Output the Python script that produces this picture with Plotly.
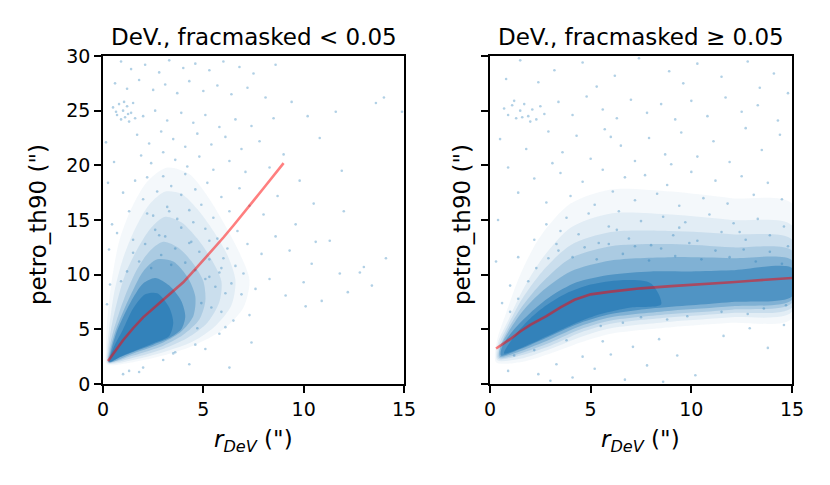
import plotly.graph_objects as go

# ---------------- data ----------------
# Running-median curves
left_line_x = [0.25, 1.0, 1.5, 2.0, 3.0, 4.0, 4.6, 5.0, 6.0, 6.5, 7.0, 8.0, 9.0]
left_line_y = [2.1, 4.0, 5.1, 6.1, 7.7, 9.3, 10.5, 11.3, 13.4, 14.5, 15.6, 17.9, 20.2]

right_line_x = [0.3, 1.0, 1.5, 2.0, 2.8, 3.5, 4.2, 5.0, 6.0, 7.5, 9.0, 10.0, 11.0, 12.0, 13.0, 14.0, 15.0]
right_line_y = [3.25, 4.1, 4.8, 5.4, 6.2, 7.0, 7.7, 8.2, 8.45, 8.75, 8.95, 9.05, 9.2, 9.3, 9.45, 9.55, 9.7]

# Density contours of the point cloud (outer -> inner), left panel
left_dens_x = [
    [0.2, 1.5, 3.0, 4.5, 6.0, 7.0, 7.3, 6.8, 6.0, 5.2, 4.3, 3.2, 2.2, 1.4, 0.8, 0.4, 0.2, 0.15],
    [0.22, 1.5, 3.0, 4.5, 5.6, 6.4, 6.6, 6.2, 5.5, 4.7, 3.9, 3.1, 2.3, 1.6, 1.0, 0.55, 0.3, 0.2],
    [0.25, 1.5, 3.0, 4.2, 5.2, 5.8, 5.9, 5.4, 4.7, 3.9, 3.1, 2.4, 1.7, 1.1, 0.7, 0.4, 0.25],
    [0.27, 1.5, 3.0, 4.0, 4.8, 5.1, 5.0, 4.5, 3.8, 3.0, 2.3, 1.7, 1.2, 0.8, 0.45, 0.3],
    [0.28, 1.5, 3.0, 3.9, 4.5, 4.6, 4.2, 3.5, 2.7, 2.0, 1.5, 1.0, 0.6, 0.35],
    [0.3, 0.9, 1.6, 2.5, 3.3, 3.9, 4.1, 3.9, 3.3, 2.6, 2.0, 1.5, 1.05, 0.65, 0.4],
    [0.32, 1.0, 1.8, 2.6, 3.3, 3.5, 3.3, 2.7, 2.1, 1.5, 1.0, 0.5],
]
left_dens_y = [
    [1.8, 2.0, 2.6, 3.5, 5.0, 7.0, 9.5, 12.0, 14.8, 17.2, 19.2, 19.8, 18.5, 16.0, 13.0, 9.0, 5.5, 3.0],
    [1.9, 2.2, 2.9, 3.9, 5.3, 7.2, 9.5, 11.8, 14.0, 16.0, 17.4, 17.6, 16.4, 14.2, 11.5, 8.3, 5.0, 3.0],
    [1.95, 2.4, 3.2, 4.2, 5.6, 7.5, 9.4, 11.4, 13.3, 14.8, 15.3, 14.3, 12.3, 10.0, 7.5, 5.0, 3.0],
    [2.0, 2.6, 3.5, 4.5, 5.9, 7.6, 9.4, 11.0, 12.4, 13.0, 12.1, 10.5, 8.5, 6.5, 4.4, 3.0],
    [2.0, 2.8, 3.8, 4.8, 6.2, 8.0, 9.8, 11.2, 11.4, 10.3, 8.6, 6.6, 4.7, 3.0],
    [2.0, 2.5, 3.0, 3.6, 4.2, 5.0, 6.2, 7.6, 9.0, 9.7, 9.2, 7.9, 6.3, 4.6, 3.0],
    [2.05, 2.6, 3.2, 3.8, 4.4, 5.6, 7.0, 8.3, 8.2, 6.9, 5.0, 3.2],
]

# Density contours, right panel
right_dens_x = [
    [0.3, 1.5, 3.0, 4.5, 6.0, 9.0, 12.0, 15.0, 15.0, 12.0, 9.0, 6.0, 4.0, 2.5, 1.5, 0.8, 0.35],
    [0.35, 1.5, 3.0, 4.5, 6.0, 9.0, 12.0, 15.0, 15.0, 12.0, 9.0, 6.0, 4.0, 2.6, 1.6, 0.9, 0.4],
    [0.4, 1.5, 3.0, 4.5, 6.0, 9.0, 12.0, 15.0, 15.0, 12.0, 9.0, 6.0, 4.0, 2.6, 1.6, 0.9, 0.45],
    [0.45, 1.5, 3.0, 4.5, 6.0, 9.0, 12.0, 15.0, 15.0, 12.0, 9.0, 6.0, 4.0, 2.6, 1.6, 0.9, 0.5],
    [0.5, 1.5, 3.0, 4.5, 6.0, 9.0, 12.0, 15.0, 15.0, 12.0, 9.0, 6.0, 4.0, 2.6, 1.6, 0.9, 0.5],
    [0.55, 1.5, 3.0, 4.5, 6.0, 8.0, 10.0, 12.0, 15.0, 15.0, 12.0, 10.0, 8.0, 6.0, 4.3, 3.0, 2.0, 1.2, 0.6],
    [0.7, 1.8, 3.0, 4.3, 5.5, 7.0, 8.5, 8.0, 6.5, 5.0, 3.8, 2.8, 2.0, 1.3],
]
right_dens_y = [
    [2.0, 2.0, 2.8, 3.8, 4.6, 5.2, 5.6, 6.0, 16.5, 17.0, 17.6, 17.8, 16.5, 13.5, 10.0, 6.5, 4.0],
    [2.2, 2.3, 3.2, 4.3, 5.1, 5.7, 6.1, 6.6, 14.5, 15.0, 15.5, 15.6, 14.3, 11.5, 8.5, 5.8, 3.8],
    [2.3, 2.6, 3.5, 4.7, 5.5, 6.1, 6.5, 7.0, 13.2, 13.7, 14.0, 13.9, 12.7, 10.3, 7.8, 5.4, 3.6],
    [2.4, 2.8, 3.8, 5.0, 5.8, 6.4, 6.8, 7.4, 12.2, 12.5, 12.8, 12.6, 11.5, 9.3, 7.1, 5.0, 3.4],
    [2.5, 3.0, 4.1, 5.3, 6.1, 6.7, 7.1, 7.7, 11.3, 11.5, 11.6, 11.3, 10.3, 8.5, 6.6, 4.7, 3.3],
    [2.6, 3.2, 4.4, 5.6, 6.4, 6.9, 7.2, 7.5, 8.0, 10.6, 10.4, 10.3, 10.3, 10.0, 9.3, 8.0, 6.5, 5.0, 3.4],
    [2.8, 3.5, 4.5, 5.6, 6.4, 7.0, 7.3, 9.2, 9.5, 9.1, 8.3, 7.2, 6.0, 4.6],
]
dens_alpha = [0.05, 0.08, 0.12, 0.18, 0.30, 0.50, 0.60]

# Sparse outlying points, left panel
left_pts = [
    (0.9,29.5),(1.4,28.8),(2.1,29.2),(2.8,28.5),(3.3,29.6),(4.0,28.9),(4.6,29.3),(5.3,28.7),(6.0,29.5),(6.8,29.0),(7.5,28.4),(8.6,29.2),
    (0.6,27.5),(1.2,27.0),(1.8,27.8),(2.5,26.9),(3.1,27.4),(3.7,26.6),(4.3,27.7),(5.0,26.8),(5.7,27.3),(6.4,26.5),(7.2,27.1),(8.1,26.2),(9.4,25.8),
    (0.5,25.3),(0.7,24.6),(0.8,25.6),(0.9,24.2),(1.0,25.0),(1.1,24.4),(1.2,25.4),(1.3,24.0),(1.4,24.8),(1.5,25.7),(1.6,24.3),(0.65,24.9),(1.05,25.8),(1.25,24.7),
    (2.0,24.5),(2.6,25.0),(3.2,24.1),(3.9,24.8),(4.5,23.9),(5.1,24.6),(5.8,23.5),(6.6,24.2),(7.4,23.6),(8.5,24.3),(10.2,24.5),(11.6,24.9),(13.6,25.7),(14.0,26.2),(14.9,24.9),
    (1.7,22.8),(2.3,22.0),(2.9,23.1),(3.5,22.4),(4.1,21.7),(4.7,22.9),(5.4,21.9),(6.1,22.6),(6.9,21.5),(7.8,22.2),(9.0,21.0),(10.8,22.5),
    (1.9,20.9),(2.4,20.2),(3.0,21.2),(3.6,20.5),(4.2,19.9),(4.8,20.8),(5.5,19.6),(6.3,20.4),(7.1,19.4),(8.3,19.8),(9.8,18.6),(11.9,19.5),
    (1.0,17.5),(1.3,15.8),(1.6,18.6),(2.0,16.9),(2.2,18.9),(2.5,15.4),(2.7,17.6),(3.0,19.0),(3.2,16.2),(3.4,18.1),(3.7,15.1),(3.9,17.3),
    (4.1,19.2),(4.3,15.9),(4.6,17.8),(4.9,16.4),(5.2,18.4),(5.5,15.2),(5.9,17.1),(6.3,15.8),(6.8,17.9),(7.3,16.3),(8.0,15.5),(8.7,17.2),
    (9.6,14.6),(10.5,16.5),(12.0,15.8),
    (0.7,13.8),(1.5,13.2),(2.8,13.6),(4.4,13.0),(5.1,14.2),(5.7,13.3),(6.2,12.4),(6.7,14.0),(7.2,12.8),(7.9,11.9),(8.6,13.5),(9.3,12.2),
    (10.4,11.0),(11.3,13.1),(12.8,10.2),(14.1,11.5),(10.6,13.0),(11.8,10.1),(13.0,10.7),(10.1,7.1),
    (5.3,9.8),(5.9,10.6),(6.4,9.2),(7.0,10.1),(7.6,8.7),(8.3,9.6),(9.1,8.1),(10.0,9.3),(10.9,7.6),(12.2,8.4),(13.4,9.0),
    (2.0,1.5),(3.0,2.2),(4.3,1.8),(5.1,3.2),(5.8,4.6),(6.5,5.8),(7.3,6.3),(4.6,3.6),(3.6,2.9),(1.3,1.2),(6.3,1.5),(1.0,0.9),
    (1.8,1.1),(3.5,2.8),(7.4,3.8),(6.1,5.2),
    (0.3,12.3),(0.35,9.1),(0.2,7.3),(0.45,14.6),(0.25,18.4),(0.55,20.3),(0.15,22.1),
    (1.8,11.2),(2.1,12.8),(2.4,10.6),(2.6,14.1),(2.9,11.8),(3.1,13.5),(3.4,10.9),(3.6,12.4),(3.9,14.3),(4.1,11.1),(4.3,12.9),
    (4.6,10.4),(4.8,12.1),(5.1,9.6),(5.3,11.4),(5.6,8.9),(5.8,10.2),(6.1,8.3),(1.2,10.3),(1.5,12.0),(0.9,9.4),(2.2,15.6),
    (3.3,15.8),(4.5,14.8),(5.3,13.1),(6.0,11.5),(6.6,10.8),(6.9,8.2),(4.9,7.4),(5.4,7.0),(4.7,5.1),(5.9,6.6),
]

# Sparse outlying points, right panel
right_pts = [
    (1.5,29.6),(3.2,28.7),(4.6,29.4),(6.2,28.2),(7.4,29.8),(8.9,28.6),(10.3,29.3),(11.5,28.1),(12.8,29.5),(14.1,28.4),
    (2.4,27.6),(5.3,27.2),(9.6,27.5),(13.4,27.1),(0.8,27.9),
    (0.7,25.2),(0.9,24.6),(1.1,25.5),(1.3,24.3),(1.5,25.0),(1.7,25.6),(1.9,24.5),(2.1,25.1),(2.3,24.2),(2.5,25.4),(2.7,24.7),
    (1.2,25.9),(2.0,24.0),(1.6,24.4),
    (3.4,25.8),(4.1,24.6),(4.8,26.3),(5.6,25.1),(6.3,24.3),(7.0,26.0),(7.8,24.8),(8.5,25.6),(9.2,24.2),(10.0,25.9),(10.8,24.5),
    (11.7,26.2),(12.5,24.9),(13.3,25.5),(14.3,24.1),(14.8,26.6),
    (0.5,22.4),(1.8,21.5),(2.9,23.1),(3.6,21.2),(4.3,22.7),(5.0,20.6),(5.7,23.3),(6.5,21.8),(7.2,20.4),(7.9,22.5),(8.7,21.0),
    (9.5,23.0),(10.3,20.8),(11.1,22.2),(11.9,20.3),(12.7,23.4),(13.5,21.4),(14.4,22.8),(3.1,20.2),(6.0,22.6),(9.0,20.1),
    (1.4,17.5),(2.2,18.8),(2.8,16.6),(3.5,19.3),(4.0,17.2),(4.6,18.5),(5.2,16.4),(5.6,19.6),(6.1,17.6),(6.7,18.9),(7.2,16.8),
    (7.7,19.1),(8.3,17.4),(8.8,18.2),(9.4,16.3),(10.0,19.4),(10.6,17.0),(11.2,18.6),(11.8,16.5),(12.5,19.0),(13.1,17.3),
    (13.8,18.4),(14.5,16.9),(0.9,19.8),
    (2.2,13.2),(2.8,14.6),(3.3,12.8),(3.8,15.2),(4.4,13.7),(4.9,15.6),(5.4,12.9),(5.9,14.4),(6.4,15.8),(6.9,13.3),(7.5,14.9),
    (8.0,12.7),(8.6,15.3),(9.1,13.6),(9.7,14.8),(10.3,13.1),(10.9,15.5),(11.5,13.9),(12.1,14.7),(12.7,13.2),(13.3,15.1),
    (13.9,13.6),(14.6,14.4),(1.4,11.6),(1.0,9.0),(0.6,7.4),(0.3,11.2),(0.4,15.0),
    (0.9,1.2),(2.4,0.9),(3.3,1.8),(4.1,0.6),(5.2,1.4),(6.0,2.7),(7.1,3.4),(8.4,4.1),(9.3,2.6),(10.2,0.8),(11.6,4.4),
    (12.9,5.1),(13.8,3.3),(14.6,5.4),(5.6,3.9),(7.8,1.7),(4.6,2.5),(3.0,0.3),(6.7,0.4),(8.6,0.2),
    (1.0,6.6),(1.4,7.8),(1.9,9.4),(2.3,10.6),(2.9,11.5),(3.4,12.2),(4.1,11.6),(4.7,12.5),(5.3,11.4),(5.9,12.8),(6.6,11.9),
    (7.2,12.6),(7.9,11.3),(8.5,12.4),(9.2,11.7),(9.9,12.9),(10.5,11.4),(11.2,12.2),(11.9,11.6),(12.6,12.3),(13.2,11.2),
    (13.9,12.1),(14.5,11.0),(14.8,12.6),(3.5,14.0),(6.3,14.1),(9.4,14.3),(12.4,13.9),(2.2,3.1),(3.8,4.0),(5.5,5.3),
    (7.5,6.1),(9.8,6.2),(11.5,6.6),(13.6,6.9),(14.7,7.2),(1.2,2.6),(6.6,5.6),(8.8,5.9),(12.8,6.4),
]

titles = ["DeV., fracmasked < 0.05", "DeV., fracmasked \u2265 0.05"]
x_title = "<i>r</i><sub><i>DeV</i></sub> (\")"
y_title = "petro_th90 (\")"
x_ticks = [0, 5, 10, 15]
y_ticks = [0, 5, 10, 15, 20, 25, 30]

# ---------------- figure ----------------
# page body has an 8px margin; figure sized so the page fits the 830x485 window
OFF = 8
FW, FH = 814, 469
BLUE = "31,119,180"


def px_x(p):
    return (p - OFF) / FW


def px_y(p):
    return 1 - (p - OFF) / FH


fig = go.Figure()

panels = [
    ("x", "y", left_dens_x, left_dens_y, left_pts, left_line_x, left_line_y),
    ("x2", "y2", right_dens_x, right_dens_y, right_pts, right_line_x, right_line_y),
]
for xa, ya, dx, dy, pts, lx, ly in panels:
    for cx, cy, a in zip(dx, dy, dens_alpha):
        fig.add_trace(go.Scatter(
            x=cx + [cx[0]], y=cy + [cy[0]], xaxis=xa, yaxis=ya,
            mode="lines", fill="toself", line=dict(width=0, shape="spline", smoothing=0.8),
            fillcolor=f"rgba({BLUE},{a})", hoverinfo="skip", showlegend=False))
    fig.add_trace(go.Scatter(
        x=[p[0] for p in pts], y=[p[1] for p in pts], xaxis=xa, yaxis=ya,
        mode="markers", marker=dict(size=2.6, color=f"rgba({BLUE},0.35)", line=dict(width=0)),
        showlegend=False))
    fig.add_trace(go.Scatter(
        x=lx, y=ly, xaxis=xa, yaxis=ya, mode="lines",
        line=dict(color="rgba(255,0,0,0.5)", width=2.6), showlegend=False))

dom_x1 = [px_x(103), px_x(404)]
dom_x2 = [px_x(490), px_x(792)]
dom_y = [px_y(384), px_y(56)]

axis_common = dict(
    range=[0, 15], tickvals=x_ticks, ticks="outside", ticklen=7, tickwidth=1.5,
    tickcolor="black", showline=True, linecolor="black", linewidth=1.5, mirror=True,
    showgrid=False, zeroline=False, tickfont=dict(size=19, color="black"),
    automargin=False,
)
yaxis_common = dict(axis_common)
yaxis_common.update(range=[0, 30], tickvals=y_ticks)

fig.update_layout(
    width=FW, height=FH, margin=dict(l=0, r=0, t=0, b=0),
    paper_bgcolor="white", plot_bgcolor="white",
    font=dict(family="DejaVu Sans", color="black"),
    xaxis=dict(axis_common, domain=dom_x1, anchor="y"),
    yaxis=dict(yaxis_common, domain=dom_y, anchor="x"),
    xaxis2=dict(axis_common, domain=dom_x2, anchor="y2"),
    yaxis2=dict(yaxis_common, domain=dom_y, anchor="x2", showticklabels=False),
)

ann = []
for dx_, t in zip([dom_x1, dom_x2], titles):
    cx = (dx_[0] + dx_[1]) / 2
    ann.append(dict(text=t, x=cx, y=px_y(37), xref="paper", yref="paper",
                    showarrow=False, font=dict(size=23), xanchor="center", yanchor="middle"))
    ann.append(dict(text=x_title, x=cx, y=px_y(441), xref="paper", yref="paper",
                    showarrow=False, font=dict(size=23), xanchor="center", yanchor="middle"))
for p in [38, 462]:
    ann.append(dict(text=y_title, x=px_x(p), y=px_y(225), xref="paper", yref="paper",
                    showarrow=False, font=dict(size=23), textangle=-90,
                    xanchor="center", yanchor="middle"))
fig.update_layout(annotations=ann)

fig.write_html("out.html")
